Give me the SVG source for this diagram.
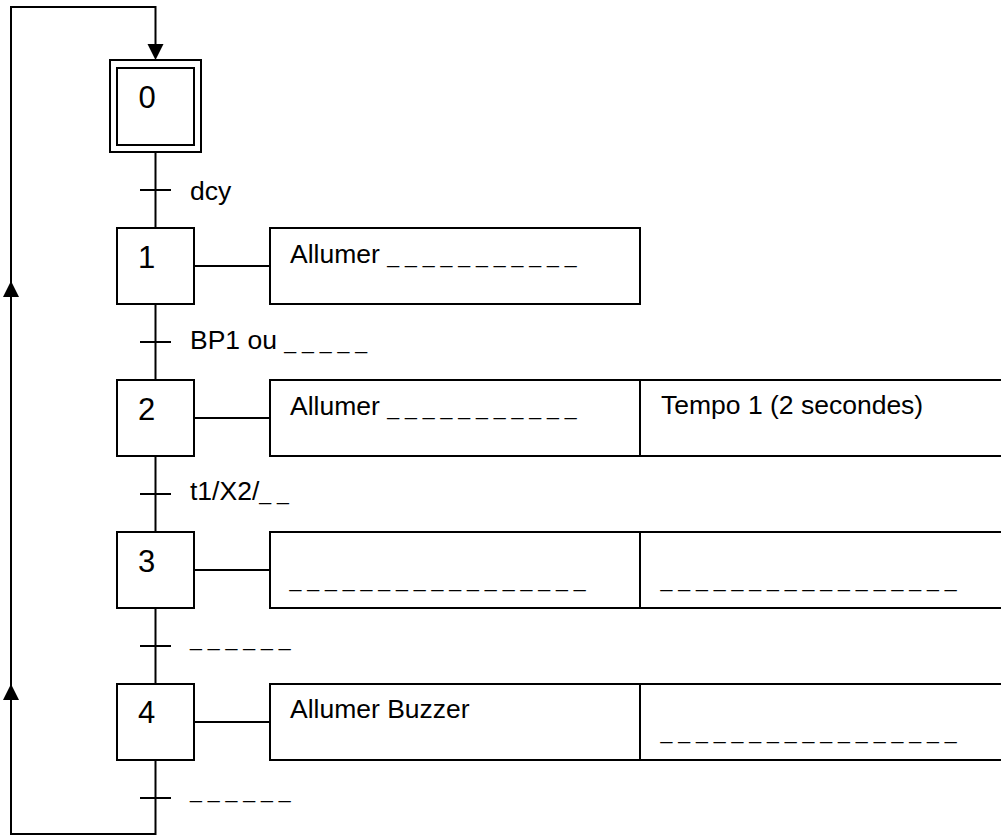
<svg xmlns="http://www.w3.org/2000/svg" width="1001" height="836" viewBox="0 0 1001 836">
<defs>
<style>
.ln{stroke:#000;stroke-width:2;fill:none}
.box{stroke:#000;stroke-width:2;fill:#fff}
.t{font-family:"Liberation Sans",Arial,sans-serif;font-size:26.5px;fill:#000}
.num{font-family:"Liberation Sans",Arial,sans-serif;font-size:31px;fill:#000;text-anchor:middle}
.d{font-size:21.3px}
.ah{fill:#000}
</style>
</defs>
<rect x="0" y="0" width="1001" height="836" fill="#fff"/>
<g id="connectors">
<path class="ln" d="M155.5,152 V834 H11 V7 H155.5 V46"/>
<polygon class="ah" points="147.5,44 163.5,44 155.5,60"/>
<polygon class="ah" points="3,297 19,297 11,281"/>
<polygon class="ah" points="3,700 19,700 11,684"/>
<line class="ln" x1="140" y1="190" x2="171" y2="190"/>
<line class="ln" x1="140" y1="342" x2="171" y2="342"/>
<line class="ln" x1="140" y1="494" x2="171" y2="494"/>
<line class="ln" x1="140" y1="646" x2="171" y2="646"/>
<line class="ln" x1="140" y1="798" x2="171" y2="798"/>
<line class="ln" x1="194" y1="266" x2="270" y2="266"/>
<line class="ln" x1="194" y1="418" x2="270" y2="418"/>
<line class="ln" x1="194" y1="570" x2="270" y2="570"/>
<line class="ln" x1="194" y1="722" x2="270" y2="722"/>
<text class="t" x="190" y="200">dcy</text>
<text class="t" x="190" y="349">BP1 ou <tspan class="d">_ _ _ _ _</tspan></text>
<text class="t" x="190" y="500">t1/X2/<tspan class="d">_ _</tspan></text>
<text class="t" x="190" y="646"><tspan class="d">_ _ _ _ _ _</tspan></text>
<text class="t" x="190" y="798"><tspan class="d">_ _ _ _ _ _</tspan></text>
</g>
<g id="step0">
<rect class="box" x="110" y="60" width="91" height="92"/>
<rect class="box" x="117" y="68" width="77" height="77"/>
<text class="num" x="147" y="108">0</text>
</g>
<g id="step1">
<rect class="box" x="117" y="228" width="77" height="76"/>
<text class="num" x="146.5" y="268">1</text>
</g>
<g id="action1">
<rect class="box" x="270" y="228" width="370" height="76"/>
<text class="t" x="290" y="263">Allumer <tspan class="d">_ _ _ _ _ _ _ _ _ _ _</tspan></text>
</g>
<g id="step2">
<rect class="box" x="117" y="380" width="77" height="76"/>
<text class="num" x="146.5" y="420">2</text>
</g>
<g id="action2">
<rect class="box" x="270" y="380" width="734" height="76"/>
<line class="ln" x1="640" y1="380" x2="640" y2="456"/>
<text class="t" x="290" y="415">Allumer <tspan class="d">_ _ _ _ _ _ _ _ _ _ _</tspan></text>
<text class="t" x="661" y="414">Tempo 1 (2 secondes)</text>
</g>
<g id="step3">
<rect class="box" x="117" y="532" width="77" height="76"/>
<text class="num" x="146.5" y="572">3</text>
</g>
<g id="action3">
<rect class="box" x="270" y="532" width="734" height="76"/>
<line class="ln" x1="640" y1="532" x2="640" y2="608"/>
<text class="t" x="289.5" y="587"><tspan class="d">_ _ _ _ _ _ _ _ _ _ _ _ _ _ _ _ _</tspan></text>
<text class="t" x="660.5" y="587"><tspan class="d">_ _ _ _ _ _ _ _ _ _ _ _ _ _ _ _ _</tspan></text>
</g>
<g id="step4">
<rect class="box" x="117" y="684" width="77" height="76"/>
<text class="num" x="146.5" y="723">4</text>
</g>
<g id="action4">
<rect class="box" x="270" y="684" width="734" height="76"/>
<line class="ln" x1="640" y1="684" x2="640" y2="760"/>
<text class="t" x="290" y="718">Allumer Buzzer</text>
<text class="t" x="660.5" y="739"><tspan class="d">_ _ _ _ _ _ _ _ _ _ _ _ _ _ _ _ _</tspan></text>
</g>
</svg>
